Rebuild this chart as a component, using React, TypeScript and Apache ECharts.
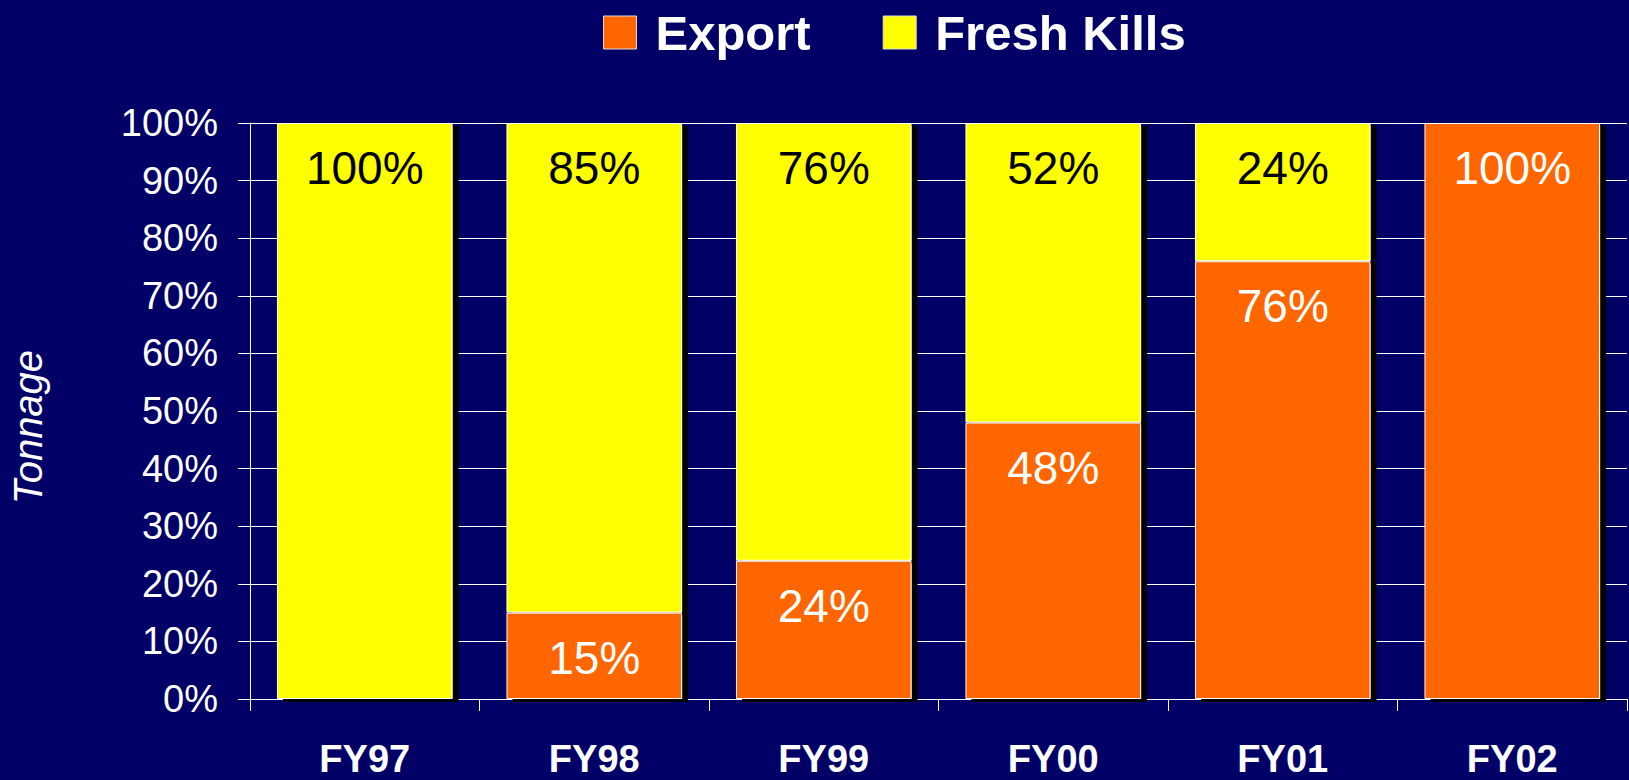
import React, { useEffect, useRef } from "react";
import * as echarts from "echarts";

const categories = ["FY97", "FY98", "FY99", "FY00", "FY01", "FY02"];
const exportValues = [0, 15, 24, 48, 76, 100];
const freshKillsValues = [100, 85, 76, 52, 24, 0];
const seriesNames = ["Export", "Fresh Kills"];

const BG = "#000066";
const ORANGE = "#FF6600";
const YELLOW = "#FFFF00";
const FONT = "'Liberation Sans', Arial, sans-serif";

export default function App() {
  const ref = useRef<HTMLDivElement>(null);

  useEffect(() => {
    if (!ref.current) return;
    const chart = echarts.init(ref.current, undefined, { renderer: "svg" });

    const barItem = (color: string) => ({
      color,
      borderColor: "#ffffff",
      borderWidth: 1,
      shadowColor: "#000000",
      shadowBlur: 0,
      shadowOffsetX: 6,
      shadowOffsetY: 3,
    });

    const labelFmt = (p: any) => (p.value === 0 ? "" : p.value + "%");

    chart.setOption({
      animation: false,
      backgroundColor: BG,
      legend: {
        data: seriesNames,
        left: 598,
        top: 3,
        itemWidth: 33,
        itemHeight: 33,
        itemGap: 72,
        icon: "rect",
        itemStyle: { borderColor: "#dddddd", borderWidth: 1, shadowBlur: 0, shadowOffsetX: 0, shadowOffsetY: 0 },
        textStyle: {
          color: "#ffffff",
          fontSize: 49,
          fontWeight: "bold",
          fontFamily: FONT,
          padding: [0, 0, 0, 14],
        },
      },
      grid: { left: 247, right: 2, top: 123, bottom: 81, containLabel: false },
      xAxis: {
        type: "category",
        data: categories,
        axisLine: { show: true, lineStyle: { color: "#ffffff", width: 1 } },
        axisTick: { show: true, length: 12, lineStyle: { color: "#ffffff", width: 1 } },
        axisLabel: {
          interval: 0,
          color: "#ffffff",
          fontSize: 38,
          fontWeight: "bold",
          fontFamily: FONT,
          margin: 41,
        },
      },
      yAxis: {
        type: "value",
        min: 0,
        max: 100,
        interval: 10,
        name: "Tonnage",
        nameLocation: "middle",
        nameGap: 202,
        nameTextStyle: {
          color: "#ffffff",
          fontSize: 40,
          fontStyle: "italic",
          fontFamily: FONT,
          padding: [0, 32, 0, 0],
        },
        axisLine: { show: true, lineStyle: { color: "#ffffff", width: 1 } },
        axisTick: { show: true, length: 12, lineStyle: { color: "#ffffff", width: 1 } },
        splitLine: { show: true, lineStyle: { color: "#ffffff", width: 1 } },
        axisLabel: {
          color: "#ffffff",
          fontSize: 38,
          fontFamily: FONT,
          margin: 32,
          formatter: "{value}%",
        },
      },
      series: [
        {
          name: seriesNames[0],
          type: "bar",
          stack: "total",
          data: exportValues,
          barCategoryGap: "23.5%",
          z: 3,
          itemStyle: barItem(ORANGE),
          label: {
            show: true,
            position: "insideTop",
            distance: 22,
            color: "#ffffff",
            fontSize: 46,
            fontFamily: FONT,
            formatter: labelFmt,
          },
        },
        {
          name: seriesNames[1],
          type: "bar",
          stack: "total",
          data: freshKillsValues,
          barCategoryGap: "23.5%",
          z: 2,
          itemStyle: barItem(YELLOW),
          label: {
            show: true,
            position: "insideTop",
            distance: 22,
            color: "#000000",
            fontSize: 46,
            fontFamily: FONT,
            formatter: labelFmt,
          },
        },
      ],
    });

    return () => chart.dispose();
  }, []);

  return (
    <div
      ref={ref}
      style={{ position: "fixed", left: 0, top: 0, width: 1629, height: 780 }}
    />
  );
}
